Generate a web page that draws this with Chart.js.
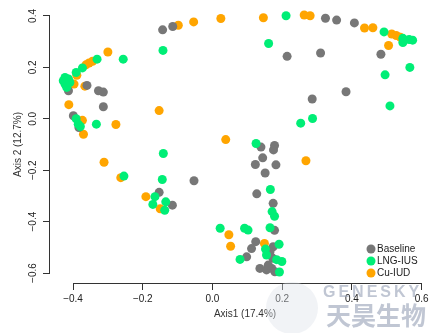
<!DOCTYPE html>
<html>
<head>
<meta charset="utf-8">
<script src="https://cdn.jsdelivr.net/npm/chart.js@4.4.1/dist/chart.umd.min.js"></script>
<style>
  html, body { margin: 0; padding: 0; background: #fff; }
  #wrap { width: 447px; height: 333px; }
</style>
</head>
<body>
<div id="wrap"><canvas id="pcoa" width="447" height="333"></canvas></div>
<script>
const X_TICKS = [-0.4, -0.2, 0, 0.2, 0.4, 0.6];
const Y_TICKS = [-0.6, -0.4, -0.2, 0, 0.2, 0.4];
const GROUPS = ["Baseline", "LNG-IUS", "Cu-IUD"];
const COLORS = ["#777777", "#00ee76", "#ffa500"];
const FONT = '"Liberation Sans", Arial, sans-serif';

// PCoA coordinates
const baselineX = [-0.143, -0.114, 0.324, 0.356, 0.407, 0.214, 0.310, 0.483, 0.383, 0.286,
  0.139, 0.178, 0.175, 0.144, 0.123, 0.182, 0.151, -0.053, 0.127, 0.174,
  -0.153, -0.115, 0.178, 0.124, 0.112, 0.098, 0.174, 0.165, 0.173, 0.136,
  0.155, 0.170, 0.179, 0.160, -0.413, -0.360, -0.327, -0.313, -0.313, -0.399, -0.383];
const baselineY = [0.346, 0.359, 0.391, 0.384, 0.373, 0.243, 0.256, 0.251, 0.105, 0.077,
  -0.110, -0.104, -0.121, -0.152, -0.178, -0.179, -0.211, -0.241, -0.292, -0.329,
  -0.286, -0.336, -0.434, -0.478, -0.505, -0.537, -0.498, -0.517, -0.543, -0.582,
  -0.588, -0.582, -0.595, -0.569, 0.109, 0.130, 0.109, 0.104, 0.047, 0.012, -0.034];

const lngX = [0.211, -0.142, 0.161, 0.492, 0.546, 0.564, 0.574, 0.546, 0.566, 0.495,
  0.509, 0.287, 0.253, 0.125, -0.141, 0.166, -0.144, -0.165, -0.171, -0.134,
  -0.137, -0.254, 0.171, 0.178, 0.165, 0.022, 0.092, 0.102, 0.191, 0.152,
  0.155, 0.079, 0.184, 0.199, 0.192, -0.256, -0.331, -0.373, -0.391, -0.423,
  -0.428, -0.423, -0.418, -0.409, -0.413, -0.391, -0.385, -0.379, -0.333];
const lngY = [0.401, 0.266, 0.293, 0.338, 0.313, 0.308, 0.306, 0.297, 0.200, 0.171,
  0.050, 0.001, -0.017, -0.096, -0.135, -0.275, -0.236, -0.303, -0.333, -0.323,
  -0.356, -0.223, -0.361, -0.379, -0.424, -0.426, -0.426, -0.433, -0.488, -0.507,
  -0.530, -0.547, -0.548, -0.555, -0.596, 0.232, 0.232, 0.198, 0.180, 0.161,
  0.148, 0.135, 0.122, 0.141, 0.155, 0.000, -0.021, -0.030, -0.021];

const cuX = [-0.098, -0.054, 0.024, 0.146, 0.263, 0.280, 0.436, 0.460, 0.514, 0.527,
  0.539, 0.505, -0.153, 0.038, 0.268, -0.191, -0.150, -0.263, -0.311, 0.047,
  0.052, 0.149, -0.300, -0.344, -0.354, -0.363, -0.389, -0.397, -0.366, -0.412,
  -0.373, -0.277, -0.370];
const cuY = [0.364, 0.377, 0.390, 0.393, 0.404, 0.401, 0.353, 0.354, 0.330, 0.324,
  0.317, 0.285, 0.032, -0.081, -0.163, -0.303, -0.350, -0.229, -0.169, -0.451,
  -0.496, -0.485, 0.260, 0.224, 0.217, 0.210, 0.169, 0.135, 0.127, 0.055,
  -0.006, -0.022, -0.060];

function toPoints(xs, ys) {
  return xs.map((x, i) => ({ x: x, y: ys[i] }));
}

function fmtTick(v) {
  return (v < 0 ? "\u2212" : "") + Math.abs(v).toFixed(1);
}

// R-style axis lines (only span first..last tick), legend and watermark
const extras = {
  id: "extras",
  afterDraw(chart) {
    const { ctx, chartArea, scales: { x, y } } = chart;
    ctx.save();
    ctx.strokeStyle = "#333";
    ctx.lineWidth = 1;
    ctx.beginPath();
    const by = Math.round(chartArea.bottom) + 0.5;
    ctx.moveTo(x.getPixelForValue(X_TICKS[0]), by);
    ctx.lineTo(x.getPixelForValue(X_TICKS[X_TICKS.length - 1]), by);
    const lx = Math.round(chartArea.left) - 0.5;
    ctx.moveTo(lx, y.getPixelForValue(Y_TICKS[0]));
    ctx.lineTo(lx, y.getPixelForValue(Y_TICKS[Y_TICKS.length - 1]));
    ctx.stroke();

    // legend, bottom right inside plot
    ctx.font = "10px " + FONT;
    ctx.textBaseline = "middle";
    ctx.textAlign = "left";
    GROUPS.forEach((g, i) => {
      const cy = chartArea.bottom - 34 + i * 12;
      const cx = chartArea.right - 69;
      ctx.fillStyle = COLORS[i];
      ctx.beginPath();
      ctx.arc(cx, cy, 4.5, 0, Math.PI * 2);
      ctx.fill();
      ctx.fillStyle = "#222";
      ctx.fillText(g, cx + 6, cy + 0.5);
    });

    // watermark
    ctx.fillStyle = "rgba(220,224,232,0.4)";
    ctx.beginPath();
    ctx.arc(292, 308, 26, 0, Math.PI * 2);
    ctx.fill();
    ctx.fillStyle = "rgba(150,160,182,0.6)";
    ctx.font = "bold 16px " + FONT;
    ctx.textBaseline = "alphabetic";
    if ("letterSpacing" in ctx) ctx.letterSpacing = "3px";
    ctx.fillText("GENESKY", 323, 297);
    if ("letterSpacing" in ctx) ctx.letterSpacing = "0px";
    ctx.font = 'bold 25px "Noto Sans CJK SC", sans-serif';
    ctx.fillText("天昊生物", 326, 325);
    ctx.restore();
  }
};

const datasets = [
  { label: GROUPS[0], data: toPoints(baselineX, baselineY), backgroundColor: COLORS[0], order: 1 },
  { label: GROUPS[1], data: toPoints(lngX, lngY), backgroundColor: COLORS[1], order: 0 },
  { label: GROUPS[2], data: toPoints(cuX, cuY), backgroundColor: COLORS[2], order: 2 },
].map(d => Object.assign(d, { pointRadius: 4.5, borderWidth: 0, pointHoverRadius: 4.5 }));

new Chart(document.getElementById("pcoa"), {
  type: "scatter",
  data: { datasets },
  options: {
    responsive: false,
    animation: false,
    layout: { padding: { left: 0, right: 7, top: 5, bottom: 0 } },
    plugins: { legend: { display: false }, tooltip: { enabled: false } },
    scales: {
      x: {
        type: "linear",
        min: -0.466,
        max: 0.6525,
        afterBuildTicks(scale) { scale.ticks = X_TICKS.map(v => ({ value: v })); },
        afterFit(scale) { scale.height = 50; },
        border: { display: false },
        grid: { drawOnChartArea: false, drawTicks: true, tickLength: 7, color: "#333" },
        ticks: {
          padding: 3, color: "#222", autoSkip: false, maxRotation: 0,
          font: { family: FONT, size: 10 },
          callback: v => fmtTick(v),
        },
        title: {
          display: true, text: "Axis1 (17.4%)", color: "#333",
          font: { family: FONT, size: 10 }, padding: { top: 0, bottom: 13 },
        },
      },
      y: {
        type: "linear",
        min: -0.6388,
        max: 0.4388,
        afterBuildTicks(scale) { scale.ticks = Y_TICKS.map(v => ({ value: v })); },
        afterFit(scale) { scale.width = 50; },
        border: { display: false },
        grid: { drawOnChartArea: false, drawTicks: true, tickLength: 7, color: "#333" },
        ticks: {
          padding: 0, color: "#222", autoSkip: false, minRotation: 90, maxRotation: 90,
          crossAlign: "center",
          font: { family: FONT, size: 10 },
          callback: v => fmtTick(v),
        },
        title: {
          display: true, text: "Axis 2 (12.7%)", color: "#333",
          font: { family: FONT, size: 10 }, padding: { top: 12, bottom: 0 },
        },
      },
    },
  },
  plugins: [extras],
});
</script>
</body>
</html>
